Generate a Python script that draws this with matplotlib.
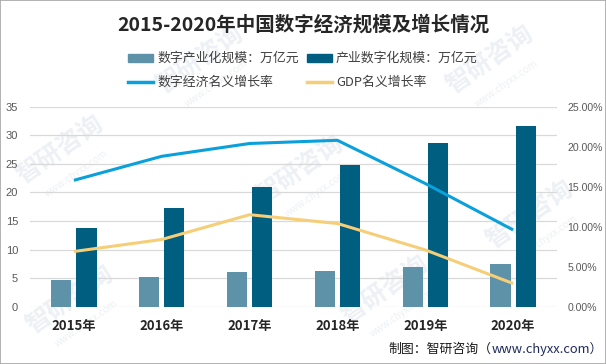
import matplotlib
matplotlib.use('Agg')
import matplotlib.pyplot as plt
import numpy as np
from matplotlib.patches import Rectangle
from matplotlib.lines import Line2D

plt.rcParams['font.family'] = ['Noto Sans CJK SC', 'DejaVu Sans']

# data
years = ['2015年', '2016年', '2017年', '2018年', '2019年', '2020年']
digital_industry = [4.7, 5.2, 6.1, 6.3, 7.0, 7.5]        # 数字产业化规模：万亿元
industry_digital = [13.8, 17.3, 20.9, 24.8, 28.6, 31.6]  # 产业数字化规模：万亿元
digital_growth = [15.8, 18.8, 20.4, 20.8, 15.4, 9.6]     # 数字经济名义增长率 %
gdp_growth = [6.9, 8.4, 11.5, 10.4, 7.1, 2.9]            # GDP名义增长率 %
left_ticks = [0, 5, 10, 15, 20, 25, 30, 35]
right_ticks = [0, 5, 10, 15, 20, 25]

C_LIGHT = '#5E92A9'
C_DARK = '#005F80'
C_BLUE = '#0AA0DC'
C_GOLD = '#F6CE78'
C_TICK = '#595959'
C_GRID = '#D9D9D9'

W, H, DPI = 606, 364, 100
fig = plt.figure(figsize=(W / DPI, H / DPI), dpi=DPI)
fig.patch.set_facecolor('white')


def fx(px):
    return px / W


def fy(py):
    return 1 - py / H


# figure border
fig.add_artist(Rectangle((0, 0), 1, 1, transform=fig.transFigure, fill=False,
                         edgecolor='#A6A6A6', linewidth=1.2))

# faint watermarks (behind the chart)
wm_pos = [(60, 150), (200, 60), (490, 60), (300, 170), (70, 300), (385, 290), (530, 215)]
for px, py in wm_pos:
    fig.text(fx(px), fy(py), '智研咨询', fontsize=18, fontweight='bold',
             color='#EDF0F4', rotation=35, ha='center', va='center', zorder=-5)
    fig.text(fx(px + 16), fy(py + 24), 'www.chyxx.com', fontsize=7,
             color='#EDF0F4', rotation=35, ha='center', va='center', zorder=-5)

ax = fig.add_axes([fx(30), 57.3 / H, 527 / W, 200 / H])
ax.set_facecolor('none')
x = np.arange(len(years))
bw = 0.229
off = 0.143
ax.bar(x - off, digital_industry, bw, color=C_LIGHT, zorder=3)
ax.bar(x + off, industry_digital, bw, color=C_DARK, zorder=3)
ax.set_xlim(-0.5, 5.5)
ax.set_ylim(0, 35)
ax.set_yticks(left_ticks)
ax.set_yticklabels([str(t) for t in left_ticks], color=C_TICK, fontsize=8,
                   family=['Liberation Sans'])
ax.set_xticks(x)
ax.set_xticklabels(years, fontsize=9.5, fontweight='bold', color='#262626')
ax.tick_params(axis='both', length=0)
ax.tick_params(axis='y', pad=8.5)
ax.tick_params(axis='x', pad=9)
ax.grid(axis='y', color=C_GRID, linewidth=0.9, zorder=0)
for s in ax.spines.values():
    s.set_visible(False)

ax2 = ax.twinx()
ax2.plot(x, digital_growth, color=C_BLUE, linewidth=2.2, zorder=4,
         solid_capstyle='butt')
ax2.plot(x, gdp_growth, color=C_GOLD, linewidth=2.2, zorder=4,
         solid_capstyle='butt')
ax2.set_ylim(0, 25)
ax2.set_yticks(right_ticks)
ax2.set_yticklabels(['%.2f%%' % t for t in right_ticks], color=C_TICK, fontsize=7.6,
                    family=['Liberation Sans'])
ax2.tick_params(axis='y', length=0, pad=7.5)
for s in ax2.spines.values():
    s.set_visible(False)

fig.text(0.5, fy(25), '2015-2020年中国数字经济规模及增长情况', fontsize=14,
         fontweight='bold', color='#262626', ha='center', va='center')

# legend, drawn by hand in two rows
leg_items = [
    ('bar', C_LIGHT, '数字产业化规模：万亿元', 128, 58),
    ('bar', C_DARK, '产业数字化规模：万亿元', 307, 58),
    ('line', C_BLUE, '数字经济名义增长率', 128, 82),
    ('line', C_GOLD, 'GDP名义增长率', 307, 82),
]
for kind, col, lab, px, py in leg_items:
    if kind == 'bar':
        fig.add_artist(Rectangle((fx(px), fy(py + 3.5)), 25 / W, 7 / H,
                                 transform=fig.transFigure, color=col))
    else:
        fig.add_artist(Line2D([fx(px), fx(px + 25)], [fy(py), fy(py)],
                              transform=fig.transFigure, color=col, linewidth=2.5))
    fig.text(fx(px + 29), fy(py), lab, fontsize=9.3, color='#404040',
             ha='left', va='center')

# source note, url part in navy; place the prefix right after measuring the url
url = fig.text(fx(603), fy(349), 'www.chyxx.com）', fontsize=9.3,
               color='#1F2A5C', ha='right', va='center')
fig.canvas.draw()
url_left = url.get_window_extent().x0 / W
fig.text(url_left - 0.5 / W, fy(349), '制图：智研咨询（', fontsize=9.3,
         color='#1a1a1a', ha='right', va='center')

fig.savefig('out.png', dpi=DPI, facecolor='white')
